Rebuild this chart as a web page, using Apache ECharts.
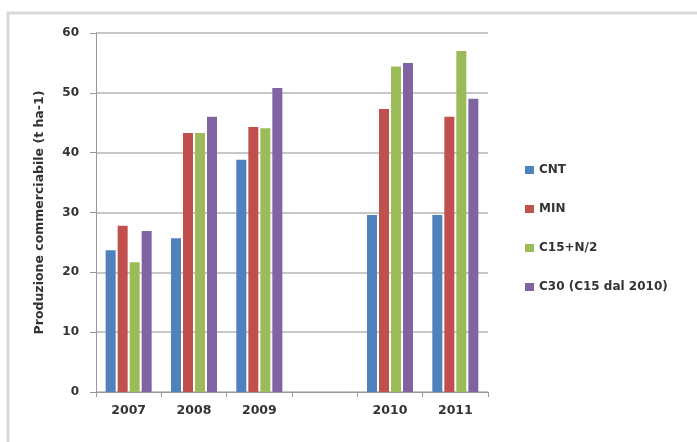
<!DOCTYPE html>
<html><head><meta charset="utf-8">
<script src="https://cdn.jsdelivr.net/npm/echarts@6/dist/echarts.min.js"></script>
<style>html,body{margin:0;padding:0;background:#fff;}#c{width:697px;height:442px;}</style>
</head><body><div id="c"></div>
<script>
const categories = ['2007','2008','2009','','2010','2011'];
const seriesNames = ['CNT','MIN','C15+N/2','C30 (C15 dal 2010)'];
const cnt = [23.7, 25.7, 38.8, null, 29.6, 29.6];
const min = [27.8, 43.3, 44.3, null, 47.3, 46.0];
const c15 = [21.7, 43.3, 44.1, null, 54.4, 57.0];
const c30 = [26.9, 46.0, 50.8, null, 55.0, 49.0];
const colors = ['#4F81BD','#C0504D','#9BBB59','#8064A2'];
const yTitle = 'Produzione commerciabile (t ha-1)';

const font = 'DejaVu Sans';
const chart = echarts.init(document.getElementById('c'));
const vals = [cnt, min, c15, c30];
chart.setOption({
  animation: false,
  color: colors,
  graphic: [{type:'rect', shape:{x:8,y:13,width:700,height:440}, style:{fill:'none', stroke:'#d9d9d9', lineWidth:3}, silent:true}],
  grid: {left:96, right:209, top:33, bottom:50},
  legend: {
    orient:'vertical', left:520, top:159, itemWidth:9, itemHeight:8, itemGap:27,
    icon:'rect',
    textStyle:{fontFamily:font, fontSize:12, fontWeight:'bold', color:'#333'},
    data: seriesNames
  },
  xAxis: {
    type:'category', data:categories,
    axisLine:{lineStyle:{color:'#999'}},
    axisTick:{show:true, length:5, lineStyle:{color:'#999'}},
    axisLabel:{fontFamily:font, fontSize:12.5, fontWeight:'bold', color:'#333', margin:12}
  },
  yAxis: {
    type:'value', min:0, max:60, interval:10,
    name: yTitle, nameLocation:'middle', nameGap:50, nameRotate:90,
    nameTextStyle:{fontFamily:font, fontSize:12.5, fontWeight:'bold', color:'#333'},
    axisLine:{show:true, lineStyle:{color:'#999'}},
    axisTick:{show:true, length:6, lineStyle:{color:'#999'}},
    axisLabel:{fontFamily:font, fontSize:12, fontWeight:'bold', color:'#333', margin:17},
    splitLine:{lineStyle:{color:'#b5b5b5', width:1.5}}
  },
  series: seriesNames.map((n,i)=>({
    name:n, type:'bar', data:vals[i], barWidth:10, barGap:'20%', barCategoryGap:'30%'
  }))
});
</script></body></html>
